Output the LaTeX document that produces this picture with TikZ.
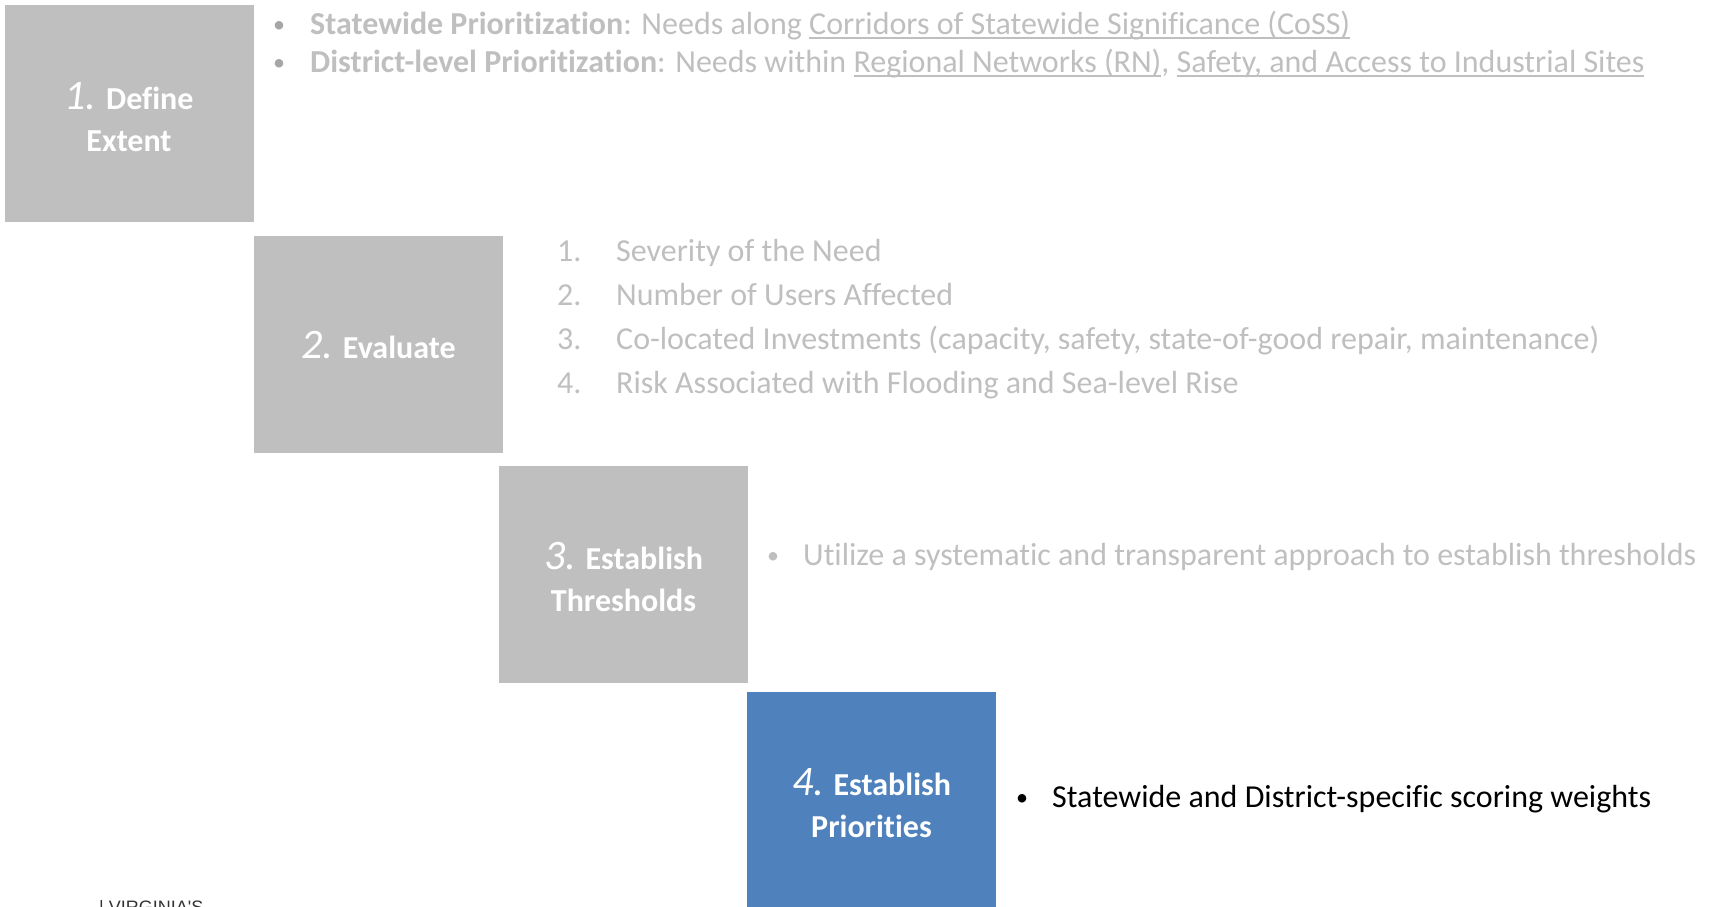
\documentclass[tikz,border=0pt]{standalone}
\usepackage{fontspec}
\setmainfont{Carlito}[Ligatures=NoCommon]
\newfontfamily\brandfont{Liberation Sans}
\usepackage{xcolor}
\usetikzlibrary{positioning}
\definecolor{boxgray}{HTML}{BFBFBF}
\definecolor{txtgray}{HTML}{BFBFBF}
\definecolor{dotgray}{HTML}{A6A6A6}
\definecolor{stepblue}{HTML}{4F81BD}
\newcommand{\stepnum}[1]{{\fontsize{42}{42}\selectfont\mdseries\itshape #1}}
\newcommand{\ulgray}[1]{\setbox0\hbox{#1}\rlap{\rule[-5pt]{\wd0}{1.8pt}}\box0}

\begin{document}
\begin{tikzpicture}[x=1pt,y=-1pt,
stepbox/.style={fill=boxgray,minimum width=249pt,minimum height=217pt,inner sep=0pt},
steptext/.style={inner sep=0pt,align=center,text=white,font=\fontsize{32}{42}\selectfont\bfseries},
note/.style={anchor=base west,inner sep=0pt,text=txtgray,font=\fontsize{32}{39}\selectfont},
dot/.style={anchor=base west,inner sep=0pt,text=dotgray,font=\fontsize{24}{24}\selectfont,yshift=2pt}
]
\useasboundingbox (0,0) rectangle (1723,906);
% the four steps
\node[stepbox] (define) at (129,113) {};
\node[stepbox] (evaluate) at (378.5,344) {};
\node[stepbox] (threshold) at (623.5,574) {};
\node[stepbox,fill=stepblue] (priority) at (871.5,800) {};
\node[steptext] (define-txt) at ([yshift=-4pt]define.center) {\stepnum{1.} Define\\Extent};
\node[steptext] (evaluate-txt) at ([yshift=-1pt]evaluate.center) {\stepnum{2.} Evaluate};
\node[steptext] (threshold-txt) at ([yshift=-3pt]threshold.center) {\stepnum{3.} Establish\\Thresholds};
\node[steptext] (priority-txt) at ([yshift=-3pt]priority.center) {\stepnum{4.} Establish\\Priorities};
% step 1
\node[dot] (dot1) at (273,34) {•};
\node[note] (extent1) at (310,34) {\textbf{Statewide Prioritization}: Needs along \ulgray{Corridors of Statewide Significance (CoSS)}};
\node[dot] (dot2) at (273,72) {•};
\node[note] (extent2) at (310,72) {\textbf{District-level Prioritization}: Needs within \ulgray{Regional Networks (RN)}, \ulgray{Safety, and Access to Industrial Sites}};
% step 2
\foreach \i/\txt in {1/Severity of the Need,2/Number of Users Affected,
  3/{Co-located Investments (capacity, safety, state-of-good repair, maintenance)},
  4/Risk Associated with Flooding and Sea-level Rise}{
  \node[note] (num\i) at (557,{217+44*\i}) {\i.};
  \node[note] (crit\i) at (616,{217+44*\i}) {\txt};
}
% step 3
\node[dot,text=txtgray] (dot3) at (767,565) {•};
\node[note] (rule) at (803,565) {Utilize a systematic and transparent approach to establish thresholds};
% step 4
\node[dot,text=black] (dot4) at (1016,807) {•};
\node[note,text=black] (weights) at (1052,807) {Statewide and District-specific scoring weights};
% footer, cut by the page edge
\node[anchor=base west,inner sep=0pt,text=black!80,font=\brandfont\fontsize{18}{18}\selectfont] (brand) at (99,913) {| VIRGINIA'S};
\end{tikzpicture}
\end{document}
